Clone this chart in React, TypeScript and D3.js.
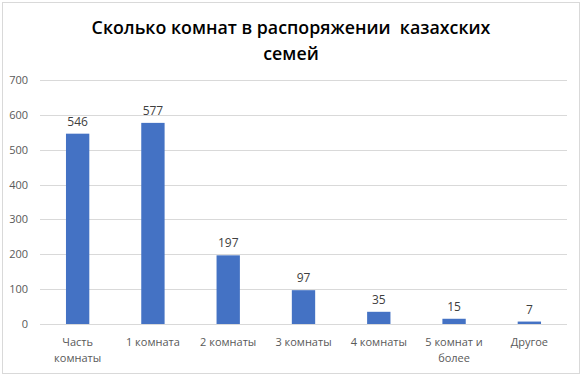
import React from "react";
import * as d3 from "d3";

const categories: string[][] = [
  ["Часть", "комнаты"],
  ["1 комната"],
  ["2 комнаты"],
  ["3 комнаты"],
  ["4 комнаты"],
  ["5 комнат и", "более"],
  ["Другое"],
];
const values: number[] = [546, 577, 197, 97, 35, 15, 7];
const yTicks: number[] = [0, 100, 200, 300, 400, 500, 600, 700];
const titleLines: string[] = ["Сколько комнат в распоряжении  казахских", "семей"];

export default function App() {
  const W = 584, H = 377;
  const left = 40, right = 567, top = 80, bottom = 324;
  const x = d3.scaleBand<number>().domain(d3.range(values.length)).range([left, right]).paddingInner(0.69).paddingOuter(0.345);
  const y = d3.scaleLinear().domain([0, 700]).range([bottom, top]);
  const font = "'Open Sans', sans-serif";
  return (
    <svg width={W} height={H} style={{ position: "absolute", left: 0, top: 0 }}>
      <rect x={0} y={0} width={W} height={H} fill="#fff" />
      <rect x={2.5} y={2.5} width={577} height={371} fill="#fff" stroke="#d9d9d9" strokeWidth={1} />
      {titleLines.map((t, i) => (
        <text key={i} x={291} y={34 + i * 26} textAnchor="middle" fontFamily={font} fontWeight="600" fontSize={17.8} fill="#000" style={{ whiteSpace: "pre" }}>
          {t}
        </text>
      ))}
      {yTicks.map((t) => (
        <g key={t}>
          <line x1={left} x2={right} y1={Math.round(y(t)) + 0.5} y2={Math.round(y(t)) + 0.5} stroke="#d9d9d9" strokeWidth={1} />
          <text x={28} y={y(t) + 4} textAnchor="end" fontFamily={font} fontSize={11} fill="#595959">{t}</text>
        </g>
      ))}
      {values.map((v, i) => (
        <g key={i}>
          <rect x={x(i)!} y={y(v)} width={x.bandwidth()} height={bottom - y(v)} fill="#4472c4" />
          <text x={x(i)! + x.bandwidth() / 2} y={y(v) - 8} textAnchor="middle" fontFamily={font} fontSize={12} fill="#404040">{v}</text>
        </g>
      ))}
      {categories.map((lines, i) =>
        lines.map((l, j) => (
          <text key={i + "-" + j} x={x(i)! + x.bandwidth() / 2} y={346 + j * 16} textAnchor="middle" fontFamily={font} fontSize={11} fill="#595959">{l}</text>
        ))
      )}
    </svg>
  );
}
